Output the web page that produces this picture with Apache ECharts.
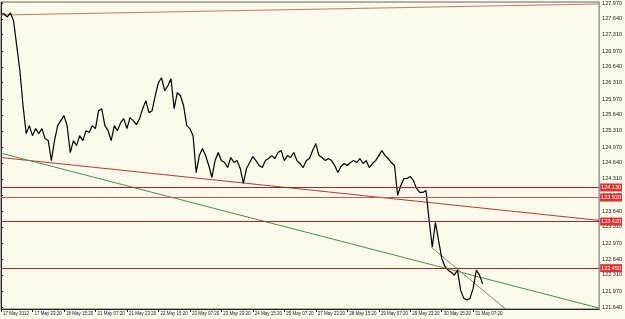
<!DOCTYPE html>
<html>
<head>
<meta charset="utf-8">
<script src="https://cdn.jsdelivr.net/npm/echarts@6/dist/echarts.min.js"></script>
<style>
html, body { margin: 0; padding: 0; background: #fcfaea; }
#chart { width: 625px; height: 319px; }
</style>
</head>
<body>
<div id="chart"></div>
<script>
// bottom time scale, one label every 10 bars
var timeLabels = ['17 May 2012', '17 May 23:20', '18 May 15:20', '21 May 07:20', '21 May 23:20',
    '22 May 15:20', '23 May 07:20', '23 May 23:20', '24 May 15:20', '25 May 07:20',
    '27 May 23:20', '28 May 15:20', '29 May 07:20', '29 May 23:20', '30 May 15:20', '31 May 07:20'];

// price scale on the right
var priceTicks = [127.970, 127.640, 127.310, 126.970, 126.640, 126.310, 125.970, 125.640,
    125.310, 124.970, 124.640, 124.310, 123.970, 123.640, 123.310, 122.970, 122.640,
    122.310, 121.970, 121.640];

// close prices (line chart)
var closes = [
    127.742, 127.742, 127.679, 127.762, 127.596, 127.077, 126.559, 125.832, 125.251, 125.417,
    125.209, 125.355, 125.251, 125.355, 125.147, 125.106, 124.690, 125.106, 125.417, 125.521,
    125.625, 125.417, 124.857, 125.106, 125.002, 125.209, 125.106, 125.313, 125.272, 125.417,
    125.355, 125.728, 125.770, 125.417, 125.313, 125.106, 125.417, 125.313, 125.479, 125.562,
    125.355, 125.583, 125.521, 125.438, 125.562, 125.770, 125.936, 125.687, 125.728, 126.040,
    126.310, 126.413, 126.143, 126.247, 126.393, 125.770, 126.102, 126.040, 125.832, 125.417,
    125.355, 125.209, 124.441, 124.794, 124.940, 124.794, 124.587, 124.338, 124.690, 124.857,
    124.690, 124.649, 124.545, 124.753, 124.649, 124.690, 124.525, 124.213, 124.525, 124.649,
    124.774, 124.690, 124.587, 124.545, 124.690, 124.732, 124.794, 124.732, 124.857, 124.898,
    124.690, 124.794, 124.753, 124.857, 124.690, 124.628, 124.545, 124.690, 124.732, 124.898,
    125.043, 124.794, 124.753, 124.690, 124.732, 124.690, 124.587, 124.441, 124.566, 124.628,
    124.587, 124.649, 124.690, 124.649, 124.732, 124.628, 124.690, 124.545, 124.628, 124.690,
    124.794, 124.898, 124.794, 124.732, 124.649, 124.587, 123.964, 124.172, 124.317, 124.317,
    124.359, 124.276, 124.109, 124.026, 124.026, 124.068, 123.445, 122.885, 123.404, 123.030,
    122.657, 122.491, 122.408, 122.366, 122.304, 122.408, 121.992, 121.826, 121.785, 121.826,
    122.034, 122.408, 122.304, 122.123
];

// horizontal levels and the bid
var levels = [124.128, 123.918, 123.425, 122.452];
var levelColors = ['#8e2f2f', '#c25a5a', '#9a2c2c', '#9a2c2c'];
var bid = 122.123;

// drawn trendlines, [bar, price]
var topLine = [[0, 127.72], [190, 127.95]];
var redTrend = [[0, 124.753], [190, 123.445]];
var greenTrend = [[0, 124.844], [190, 121.619]];
var fallLine = [[136.7, 122.885], [160.3, 121.60]];

var chart = echarts.init(document.getElementById('chart'));

function trend(data, color) {
    return {
        type: 'line', data: data, symbol: 'none', silent: true,
        lineStyle: { color: color, width: 1 }, z: 1
    };
}

var levelMarks = levels.map(function (v, i) {
    return {
        yAxis: v,
        lineStyle: { color: levelColors[i], width: 1, type: 'solid' },
        label: { backgroundColor: '#dc3232', color: '#fff' }
    };
});
levelMarks.push({
    yAxis: bid,
    lineStyle: { opacity: 0 },
    label: { backgroundColor: '#111', color: '#fff' }
});

chart.setOption({
    animation: false,
    backgroundColor: '#fcfaea',
    grid: { left: 1, right: 25, top: 1, bottom: 10, show: true, borderColor: '#666', borderWidth: 1 },
    xAxis: {
        type: 'value', min: 0, max: 190,
        axisLine: { lineStyle: { color: '#222' } },
        axisTick: { customValues: timeLabels.map(function (t, i) { return i * 10; }), length: 3, lineStyle: { color: '#222' } },
        axisLabel: {
            customValues: timeLabels.map(function (t, i) { return i * 10; }),
            formatter: function (v) { return timeLabels[Math.round(v / 10)]; },
            align: 'left', margin: 2, fontSize: 4.5, color: '#222',
            fontFamily: 'Liberation Sans', padding: [0, 0, 0, 2]
        },
        splitLine: { show: false }
    },
    yAxis: {
        type: 'value', position: 'right', min: 121.60, max: 127.99,
        axisLine: { show: true, lineStyle: { color: '#222' } },
        axisTick: { show: true, customValues: priceTicks, length: 2, lineStyle: { color: '#222' } },
        axisLabel: {
            customValues: priceTicks,
            formatter: function (v) { return v.toFixed(3); },
            margin: 3, fontSize: 5.5, color: '#222', fontFamily: 'Liberation Sans'
        },
        splitLine: { show: false }
    },
    series: [
        trend(topLine, '#b57d6e'),
        trend(redTrend, '#b23b3b'),
        trend(greenTrend, '#4f8a4f'),
        trend(fallLine, '#6d8a6d'),
        {
            type: 'line',
            data: closes.map(function (c, i) { return [i, c]; }),
            symbol: 'none',
            lineStyle: { color: '#000', width: 1.2 },
            z: 3,
            markLine: {
                silent: true,
                symbol: ['none', 'none'],
                animation: false,
                label: {
                    position: 'end', distance: 1, fontSize: 5.5, fontFamily: 'Liberation Sans',
                    padding: [1, 1, 1, 1],
                    formatter: function (p) { return p.value.toFixed(3); }
                },
                data: levelMarks
            }
        }
    ]
});
</script>
</body>
</html>
